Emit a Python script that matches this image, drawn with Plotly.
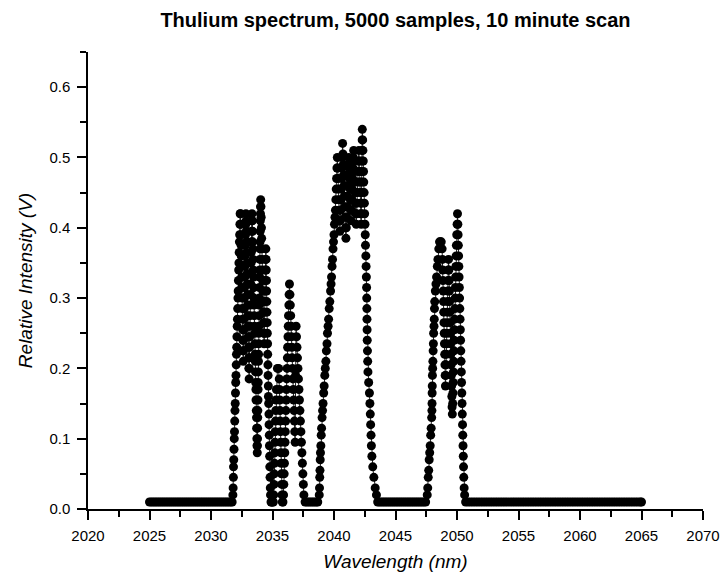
import plotly.graph_objects as go

# ---------------- data (wavelength in nm, signal in V) ----------------
baseline_1_nm = [2025.00, 2025.15, 2025.30, 2025.45, 2025.60, 2025.75, 2025.90, 2026.05, 2026.20, 2026.35,
                 2026.50, 2026.65, 2026.80, 2026.95, 2027.10, 2027.25, 2027.40, 2027.55, 2027.70, 2027.85,
                 2028.00, 2028.15, 2028.30, 2028.45, 2028.60, 2028.75, 2028.90, 2029.05, 2029.20, 2029.35,
                 2029.50, 2029.65, 2029.80, 2029.95, 2030.10, 2030.25, 2030.40, 2030.55, 2030.70, 2030.85,
                 2031.00, 2031.15, 2031.30, 2031.45, 2031.60, 2031.72]
baseline_1_v = [0.01, 0.01, 0.01, 0.01, 0.01, 0.01, 0.01, 0.01, 0.01, 0.01,
                0.01, 0.01, 0.01, 0.01, 0.01, 0.01, 0.01, 0.01, 0.01, 0.01,
                0.01, 0.01, 0.01, 0.01, 0.01, 0.01, 0.01, 0.01, 0.01, 0.01,
                0.01, 0.01, 0.01, 0.01, 0.01, 0.01, 0.01, 0.01, 0.01, 0.01,
                0.01, 0.01, 0.01, 0.01, 0.01, 0.01]

peak_a_nm = [
    2031.78, 2031.80, 2031.82, 2031.83, 2031.85, 2031.87, 2031.89, 2031.91, 2031.93, 2031.95,
    2031.97, 2031.99, 2032.01, 2032.03, 2032.05, 2032.07, 2032.09, 2032.11, 2032.13, 2032.15,
    2032.17, 2032.19, 2032.21, 2032.23, 2032.25, 2032.27, 2032.29, 2032.31, 2032.33, 2032.35, 2032.37,
    2032.40, 2032.42, 2032.43, 2032.45, 2032.46, 2032.48, 2032.50, 2032.51, 2032.53, 2032.54,
    2032.56, 2032.58, 2032.59, 2032.61, 2032.62,
    2032.64, 2032.65, 2032.67, 2032.68, 2032.70, 2032.72, 2032.73, 2032.75, 2032.76, 2032.78,
    2032.80, 2032.81, 2032.83, 2032.84,
    2032.86, 2032.87, 2032.89, 2032.90, 2032.92, 2032.94, 2032.95, 2032.97, 2032.98, 2033.00,
    2033.02, 2033.03, 2033.05, 2033.06, 2033.08, 2033.10,
    2033.11, 2033.12, 2033.14, 2033.15, 2033.17, 2033.18, 2033.20, 2033.21, 2033.23, 2033.24,
    2033.26, 2033.27, 2033.29, 2033.30, 2033.32, 2033.33,
    2033.36, 2033.38, 2033.39, 2033.41, 2033.42, 2033.44, 2033.46, 2033.47, 2033.49, 2033.50,
    2033.52, 2033.54, 2033.55, 2033.57, 2033.58, 2033.60, 2033.62, 2033.63, 2033.65, 2033.66,
    2033.68, 2033.70, 2033.71, 2033.73, 2033.74, 2033.76,
    2033.77, 2033.78, 2033.79, 2033.80, 2033.81, 2033.82, 2033.83, 2033.84, 2033.85, 2033.86,
    2033.87, 2033.88, 2033.89, 2033.90, 2033.91, 2033.92, 2033.93, 2033.94, 2033.95, 2033.96,
    2033.97, 2033.98, 2033.99, 2034.00, 2034.01, 2034.02, 2034.03, 2034.04,
    2034.06, 2034.08, 2034.10, 2034.12, 2034.14, 2034.16, 2034.18, 2034.20, 2034.22, 2034.24,
    2034.26, 2034.28, 2034.30, 2034.32,
    2034.34, 2034.35, 2034.37, 2034.38, 2034.40, 2034.41, 2034.43, 2034.44, 2034.46,
    2034.48, 2034.49, 2034.51, 2034.52, 2034.54, 2034.55, 2034.57, 2034.58, 2034.60, 2034.61,
    2034.63, 2034.64, 2034.66, 2034.67, 2034.69,
    2034.71, 2034.72, 2034.74, 2034.75, 2034.77, 2034.78, 2034.80, 2034.82, 2034.84, 2034.88,
]
peak_a_v = [
    0.02, 0.03, 0.045, 0.06, 0.07, 0.085, 0.1, 0.11, 0.125, 0.14,
    0.15, 0.165, 0.18, 0.19, 0.205, 0.22, 0.23, 0.245, 0.26, 0.27,
    0.285, 0.3, 0.31, 0.325, 0.34, 0.35, 0.365, 0.38, 0.39, 0.405, 0.42,
    0.42, 0.405, 0.39, 0.375, 0.36, 0.345, 0.33, 0.315, 0.3, 0.285,
    0.27, 0.255, 0.24, 0.225, 0.21,
    0.225, 0.24, 0.255, 0.27, 0.285, 0.3, 0.315, 0.33, 0.345, 0.36,
    0.375, 0.39, 0.405, 0.42,
    0.41, 0.395, 0.38, 0.365, 0.35, 0.335, 0.32, 0.305, 0.29, 0.275,
    0.26, 0.245, 0.23, 0.215, 0.2, 0.185,
    0.2, 0.215, 0.23, 0.245, 0.26, 0.275, 0.29, 0.305, 0.32, 0.335,
    0.35, 0.365, 0.38, 0.395, 0.41, 0.42,
    0.41, 0.395, 0.38, 0.37, 0.355, 0.34, 0.33, 0.315, 0.3, 0.29,
    0.275, 0.26, 0.25, 0.235, 0.22, 0.21, 0.195, 0.18, 0.17, 0.155,
    0.14, 0.13, 0.115, 0.1, 0.09, 0.08,
    0.09, 0.1, 0.115, 0.13, 0.14, 0.155, 0.17, 0.18, 0.195, 0.21,
    0.22, 0.235, 0.25, 0.26, 0.275, 0.29, 0.3, 0.315, 0.33, 0.34,
    0.355, 0.37, 0.38, 0.395, 0.41, 0.42, 0.43, 0.44,
    0.43, 0.415, 0.4, 0.385, 0.37, 0.355, 0.34, 0.325, 0.31, 0.295,
    0.28, 0.265, 0.25, 0.235,
    0.25, 0.265, 0.28, 0.295, 0.31, 0.325, 0.34, 0.355, 0.37,
    0.355, 0.34, 0.325, 0.31, 0.295, 0.28, 0.265, 0.25, 0.235, 0.22,
    0.205, 0.19, 0.175, 0.16, 0.15,
    0.135, 0.12, 0.105, 0.09, 0.075, 0.06, 0.045, 0.03, 0.02, 0.01,
]

peak_b_nm = [
    2034.92, 2035.00, 2035.07,
    2035.10, 2035.12, 2035.14, 2035.16, 2035.18, 2035.20, 2035.22, 2035.24, 2035.26, 2035.28,
    2035.32, 2035.40, 2035.50,
    2035.55, 2035.57, 2035.59, 2035.61, 2035.63, 2035.65, 2035.67, 2035.69, 2035.71, 2035.73,
    2035.75, 2035.77, 2035.80, 2035.85,
    2035.90, 2035.92, 2035.95, 2035.97, 2036.00, 2036.02, 2036.04, 2036.07, 2036.09, 2036.12,
    2036.14, 2036.16, 2036.19, 2036.21, 2036.23, 2036.26, 2036.28, 2036.30, 2036.33, 2036.35, 2036.38,
    2036.42, 2036.45, 2036.48, 2036.51, 2036.54, 2036.57, 2036.60, 2036.63, 2036.66, 2036.69,
    2036.72, 2036.75, 2036.78, 2036.81, 2036.84,
    2036.88, 2036.92,
    2036.95, 2036.99, 2037.03, 2037.07, 2037.11, 2037.15, 2037.19, 2037.23, 2037.27, 2037.31,
    2037.35, 2037.39, 2037.43, 2037.47, 2037.51, 2037.55,
    2037.65, 2037.80, 2037.95, 2038.10, 2038.25, 2038.40, 2038.55, 2038.68,
]
peak_b_v = [
    0.01, 0.01, 0.01,
    0.02, 0.035, 0.05, 0.065, 0.08, 0.095, 0.11, 0.125, 0.14, 0.155,
    0.17, 0.2, 0.2,
    0.185, 0.17, 0.155, 0.14, 0.125, 0.11, 0.095, 0.08, 0.065, 0.05,
    0.035, 0.02, 0.01, 0.01,
    0.02, 0.035, 0.05, 0.065, 0.08, 0.095, 0.11, 0.125, 0.14, 0.155,
    0.17, 0.185, 0.2, 0.215, 0.23, 0.245, 0.26, 0.275, 0.29, 0.305, 0.32,
    0.305, 0.29, 0.275, 0.26, 0.245, 0.23, 0.215, 0.2, 0.185, 0.17,
    0.155, 0.14, 0.125, 0.11, 0.095,
    0.19, 0.26,
    0.245, 0.23, 0.215, 0.2, 0.185, 0.17, 0.155, 0.14, 0.125, 0.11,
    0.095, 0.08, 0.065, 0.05, 0.035, 0.02,
    0.01, 0.01, 0.01, 0.01, 0.01, 0.01, 0.01, 0.01,
]

peak_c_nm = [
    2038.80, 2038.82, 2038.84, 2038.86, 2038.88, 2038.90, 2038.93, 2038.96, 2038.99, 2039.03,
    2039.07, 2039.11, 2039.16, 2039.20, 2039.25, 2039.29, 2039.34, 2039.38, 2039.43, 2039.47,
    2039.52, 2039.56, 2039.61, 2039.66, 2039.72, 2039.76, 2039.80, 2039.84, 2039.88, 2039.92,
    2039.96, 2040.00, 2040.04, 2040.08,
    2040.12, 2040.15, 2040.18, 2040.21, 2040.24, 2040.27,
    2040.30, 2040.33, 2040.36, 2040.39, 2040.42, 2040.45, 2040.48,
    2040.51, 2040.54, 2040.57, 2040.60, 2040.63, 2040.66, 2040.68, 2040.70,
    2040.73, 2040.76, 2040.79, 2040.82, 2040.85, 2040.88, 2040.91, 2040.94, 2040.97,
    2041.00, 2041.03, 2041.06, 2041.09, 2041.12, 2041.15, 2041.18, 2041.21,
    2041.24, 2041.27, 2041.30, 2041.33, 2041.36, 2041.39,
    2041.42, 2041.45, 2041.48, 2041.51, 2041.54, 2041.57, 2041.60,
    2041.63, 2041.66, 2041.69, 2041.72, 2041.75, 2041.78, 2041.81,
    2041.84, 2041.87, 2041.90, 2041.93, 2041.96, 2041.99, 2042.02,
    2042.05, 2042.08, 2042.11, 2042.14, 2042.17, 2042.19, 2042.21,
    2042.22, 2042.23, 2042.24, 2042.25, 2042.26, 2042.27, 2042.28, 2042.29, 2042.30,
    2042.33, 2042.35, 2042.38, 2042.40, 2042.42, 2042.45, 2042.47, 2042.49, 2042.52, 2042.54,
    2042.56, 2042.59, 2042.61, 2042.63, 2042.65,
    2042.66, 2042.67, 2042.68, 2042.69, 2042.70, 2042.72, 2042.74, 2042.76, 2042.82, 2042.88,
    2042.92, 2042.95, 2042.98, 2043.01, 2043.04, 2043.08, 2043.15, 2043.24, 2043.35, 2043.45,
]
peak_c_v = [
    0.02, 0.03, 0.045, 0.055, 0.07, 0.08, 0.09, 0.105, 0.115, 0.13,
    0.14, 0.15, 0.165, 0.175, 0.19, 0.2, 0.21, 0.225, 0.235, 0.25,
    0.26, 0.27, 0.285, 0.295, 0.31, 0.32, 0.33, 0.345, 0.355, 0.37,
    0.38, 0.39, 0.405, 0.415,
    0.425, 0.44, 0.455, 0.47, 0.485, 0.5,
    0.485, 0.47, 0.455, 0.44, 0.425, 0.41, 0.395,
    0.41, 0.425, 0.44, 0.455, 0.47, 0.485, 0.5, 0.52,
    0.505, 0.49, 0.475, 0.46, 0.445, 0.43, 0.415, 0.4, 0.385,
    0.4, 0.415, 0.43, 0.445, 0.46, 0.475, 0.49, 0.5,
    0.485, 0.47, 0.455, 0.44, 0.425, 0.41,
    0.425, 0.44, 0.455, 0.47, 0.485, 0.5, 0.51,
    0.495, 0.48, 0.465, 0.45, 0.435, 0.42, 0.405,
    0.42, 0.435, 0.45, 0.465, 0.48, 0.495, 0.51,
    0.495, 0.48, 0.465, 0.45, 0.435, 0.42, 0.405,
    0.42, 0.435, 0.45, 0.465, 0.48, 0.495, 0.51, 0.525, 0.54,
    0.525, 0.51, 0.495, 0.48, 0.465, 0.45, 0.435, 0.42, 0.405, 0.39,
    0.375, 0.36, 0.345, 0.33, 0.315,
    0.3, 0.285, 0.27, 0.255, 0.24, 0.225, 0.21, 0.195, 0.18, 0.165,
    0.15, 0.135, 0.12, 0.105, 0.09, 0.075, 0.06, 0.045, 0.03, 0.02,
]

baseline_3_nm = [2043.55, 2043.70, 2043.85, 2044.00, 2044.15, 2044.30, 2044.45, 2044.60, 2044.75, 2044.90,
                 2045.05, 2045.20, 2045.35, 2045.50, 2045.65, 2045.80, 2045.95, 2046.10, 2046.25, 2046.40,
                 2046.55, 2046.70, 2046.85, 2047.00, 2047.15, 2047.30, 2047.45]
baseline_3_v = [0.01, 0.01, 0.01, 0.01, 0.01, 0.01, 0.01, 0.01, 0.01, 0.01,
                0.01, 0.01, 0.01, 0.01, 0.01, 0.01, 0.01, 0.01, 0.01, 0.01,
                0.01, 0.01, 0.01, 0.01, 0.01, 0.01, 0.01]

peak_d_nm = [
    2047.58, 2047.62, 2047.66, 2047.70, 2047.74, 2047.78, 2047.82, 2047.86, 2047.90, 2047.94,
    2047.96, 2047.97, 2047.98, 2047.99, 2048.00, 2048.02, 2048.04, 2048.06, 2048.08, 2048.10,
    2048.13, 2048.15, 2048.17, 2048.19, 2048.24, 2048.29, 2048.34, 2048.40, 2048.45, 2048.52, 2048.58,
    2048.65, 2048.72, 2048.79,
    2048.82, 2048.84, 2048.86, 2048.88, 2048.90, 2048.92, 2048.94, 2048.96, 2048.98, 2049.00,
    2049.02, 2049.04, 2049.06,
    2049.09, 2049.11, 2049.13, 2049.15, 2049.17, 2049.19, 2049.21, 2049.23, 2049.25, 2049.27,
    2049.29, 2049.31,
    2049.34, 2049.36, 2049.38, 2049.40, 2049.42, 2049.44, 2049.46, 2049.48, 2049.50, 2049.52,
    2049.54, 2049.56, 2049.58, 2049.60, 2049.62,
    2049.65, 2049.67, 2049.69, 2049.71, 2049.73, 2049.75, 2049.77, 2049.79, 2049.81, 2049.83,
    2049.85, 2049.87, 2049.89, 2049.91, 2049.93, 2049.95, 2049.98, 2050.01, 2050.04,
    2050.07, 2050.09, 2050.11, 2050.13, 2050.15, 2050.17, 2050.19, 2050.21, 2050.23, 2050.25,
    2050.27, 2050.29, 2050.31, 2050.33, 2050.35, 2050.37, 2050.39, 2050.41, 2050.43, 2050.45,
    2050.47, 2050.49, 2050.51, 2050.53, 2050.55, 2050.58, 2050.62,
]
peak_d_v = [
    0.02, 0.03, 0.045, 0.055, 0.07, 0.08, 0.09, 0.105, 0.115, 0.13,
    0.14, 0.15, 0.165, 0.175, 0.19, 0.2, 0.21, 0.225, 0.235, 0.25,
    0.26, 0.27, 0.285, 0.295, 0.31, 0.32, 0.33, 0.345, 0.355, 0.37, 0.38,
    0.38, 0.38, 0.37,
    0.355, 0.34, 0.325, 0.31, 0.295, 0.28, 0.265, 0.25, 0.235, 0.22,
    0.205, 0.19, 0.175,
    0.19, 0.205, 0.22, 0.235, 0.25, 0.265, 0.28, 0.295, 0.31, 0.325,
    0.34, 0.355,
    0.34, 0.325, 0.31, 0.295, 0.28, 0.265, 0.25, 0.235, 0.22, 0.205,
    0.19, 0.175, 0.16, 0.145, 0.135,
    0.15, 0.165, 0.18, 0.195, 0.21, 0.225, 0.24, 0.255, 0.27, 0.285,
    0.3, 0.315, 0.33, 0.345, 0.36, 0.375, 0.39, 0.405, 0.42,
    0.405, 0.39, 0.375, 0.36, 0.345, 0.33, 0.315, 0.3, 0.285, 0.27,
    0.255, 0.24, 0.225, 0.21, 0.195, 0.18, 0.165, 0.15, 0.135, 0.12,
    0.105, 0.09, 0.075, 0.06, 0.045, 0.03, 0.02,
]

baseline_4_nm = [2050.7, 2050.9, 2051.1, 2051.3, 2051.5, 2051.7, 2051.9, 2052.1, 2052.3, 2052.5,
                 2052.7, 2052.9, 2053.1, 2053.3, 2053.5, 2053.7, 2053.9, 2054.1, 2054.3, 2054.5,
                 2054.7, 2054.9, 2055.1, 2055.3, 2055.5, 2055.7, 2055.9, 2056.1, 2056.3, 2056.5,
                 2056.7, 2056.9, 2057.1, 2057.3, 2057.5, 2057.7, 2057.9, 2058.1, 2058.3, 2058.5,
                 2058.7, 2058.9, 2059.1, 2059.3, 2059.5, 2059.7, 2059.9, 2060.1, 2060.3, 2060.5,
                 2060.7, 2060.9, 2061.1, 2061.3, 2061.5, 2061.7, 2061.9, 2062.1, 2062.3, 2062.5,
                 2062.7, 2062.9, 2063.1, 2063.3, 2063.5, 2063.7, 2063.9, 2064.1, 2064.3, 2064.5,
                 2064.7, 2064.9, 2065.0]
baseline_4_v = [0.01, 0.01, 0.01, 0.01, 0.01, 0.01, 0.01, 0.01, 0.01, 0.01,
                0.01, 0.01, 0.01, 0.01, 0.01, 0.01, 0.01, 0.01, 0.01, 0.01,
                0.01, 0.01, 0.01, 0.01, 0.01, 0.01, 0.01, 0.01, 0.01, 0.01,
                0.01, 0.01, 0.01, 0.01, 0.01, 0.01, 0.01, 0.01, 0.01, 0.01,
                0.01, 0.01, 0.01, 0.01, 0.01, 0.01, 0.01, 0.01, 0.01, 0.01,
                0.01, 0.01, 0.01, 0.01, 0.01, 0.01, 0.01, 0.01, 0.01, 0.01,
                0.01, 0.01, 0.01, 0.01, 0.01, 0.01, 0.01, 0.01, 0.01, 0.01,
                0.01, 0.01, 0.01]

x_ticks = [2020, 2025, 2030, 2035, 2040, 2045, 2050, 2055, 2060, 2065, 2070]
y_ticks = [0.0, 0.1, 0.2, 0.3, 0.4, 0.5, 0.6]
y_tick_labels = ["0.0", "0.1", "0.2", "0.3", "0.4", "0.5", "0.6"]

segments = [
    (baseline_1_nm, baseline_1_v), (peak_a_nm, peak_a_v), (peak_b_nm, peak_b_v),
    (peak_c_nm, peak_c_v), (baseline_3_nm, baseline_3_v), (peak_d_nm, peak_d_v),
    (baseline_4_nm, baseline_4_v),
]
wavelength, intensity = [], []
for xs, ys in segments:
    assert len(xs) == len(ys), (len(xs), len(ys))
    wavelength += xs
    intensity += ys

FONT = "Arial, 'Liberation Sans', sans-serif"

fig = go.Figure(
    go.Scatter(
        x=wavelength, y=intensity, mode="lines+markers",
        line=dict(color="#222222", width=1),
        marker=dict(color="black", size=9, line=dict(width=0)),
        showlegend=False, hoverinfo="skip", cliponaxis=False,
    )
)

axis_common = dict(
    showgrid=False, zeroline=False, showline=True, linecolor="black", linewidth=1.5,
    ticks="outside", ticklen=9, tickwidth=1.5, tickcolor="black",
    tickfont=dict(family=FONT, size=15, color="black"),
    mirror=False, automargin=False,
)

fig.update_layout(
    width=721, height=575,
    margin=dict(l=88, r=18, t=52, b=66, autoexpand=False),
    paper_bgcolor="white", plot_bgcolor="white",
    title=dict(
        text="<b>Thulium spectrum, 5000 samples, 10 minute scan</b>",
        font=dict(family=FONT, size=20, color="black"),
        x=0.5, xref="paper", xanchor="center",
        y=1 - 20 / 575, yref="container", yanchor="middle",
    ),
    xaxis=dict(
        range=[2020, 2070], tickvals=x_ticks, ticktext=[str(v) for v in x_ticks],
        ticklabelstandoff=3,
        minor=dict(dtick=2.5, ticklen=6, tickwidth=1.5, tickcolor="black", ticks="outside"),
        title=dict(text="<i>Wavelength (nm)</i>", font=dict(family=FONT, size=19, color="black"), standoff=12),
        **axis_common,
    ),
    yaxis=dict(
        range=[0, 0.65], tickvals=y_ticks, ticktext=y_tick_labels,
        ticklabelstandoff=4,
        minor=dict(dtick=0.05, ticklen=6, tickwidth=1.5, tickcolor="black", ticks="outside"),
        title=dict(text="<i>Relative Intensity (V)</i>", font=dict(family=FONT, size=19, color="black"), standoff=12),
        **axis_common,
    ),
)

fig.write_html("out.html", config={"displayModeBar": False})
